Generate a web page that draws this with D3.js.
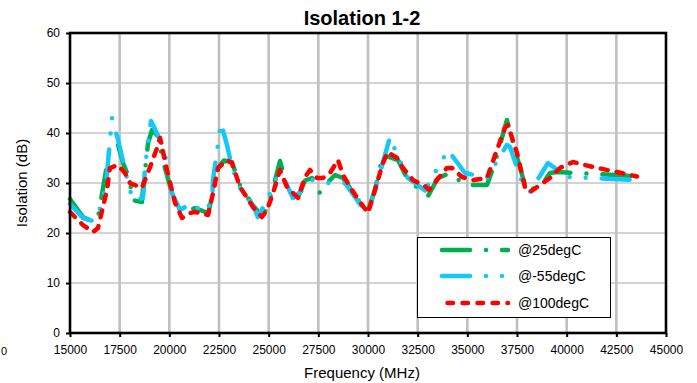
<!DOCTYPE html>
<html><head><meta charset="utf-8">
<script src="https://cdn.jsdelivr.net/npm/d3@7"></script>
<style>
html,body{margin:0;padding:0;background:#fff;}
text{font-family:Arial,"Liberation Sans",sans-serif;}
</style></head>
<body><svg id="c" width="697" height="383"></svg>
<script>
const xTicks = [15000,17500,20000,22500,25000,27500,30000,32500,35000,37500,40000,42500,45000];
const yTicks = [0,10,20,30,40,50,60];
const seriesNames = ["@25degC","@-55degC","@100degC"];

const freq25 = [15000,15650,16160,16410,16760,17010,17420,17670,18020,18120,18620,18670,18930,19130,19380,19780,20130,20540,21040,21290,21950,22200,22450,22750,23150,23560,24210,24660,24920,25220,25570,25920,26480,26830,27180,27580,27940,28340,28740,29190,29700,30000,30350,30750,31510,32010,33020,33520,34130,34880,35990,36390,36990,37500,38000,38810,39160,39510,40520,41570,43540];
const val25  = [26.8,23.2,22.2,23.2,31.2,37.2,37.6,34,30.6,26.6,26.2,28.6,38,40.6,39.6,33,28,24.5,24.5,25,24,28,33,34.5,34.2,29.5,25.5,23.4,25,29,34.4,29.2,27.2,30.5,31,28,30,31.6,31,28.5,25.5,24.5,28.6,35.6,34.6,30.6,27.4,31,32,29.6,29.6,34,42.6,35.2,28.2,30,32,32.2,32,31.8,31.3];

const freqM55 = [15000,15650,16160,16410,16660,16860,17110,17420,17670,17920,18170,18670,18720,18770,19080,19780,19880,20130,20540,21140,21540,21800,22150,22200,22350,22600,22900,23150,23560,24210,24460,24920,25420,25700,26220,26830,27180,27940,28840,29700,30200,30500,31110,31360,32010,32870,33270,34030,34280,34880,35990,36990,37150,37750,38150,39060,40010,41170,42280,43540];
const valM55  = [25.8,23,22.4,23.6,27,31.6,43,38.6,34.4,30,26.6,27,29,33.2,42.4,36.6,32,28,24.6,26,24.6,24.2,26.6,30.6,35,42,37.6,33.2,29,25.5,23.2,26.6,31.2,31.5,27,29,30.6,30,30,25.2,26.6,30.6,39.2,36.6,31,28.5,31.4,36.6,35.2,32,31,37.6,37.2,30.2,28.2,34,31.2,31,30.8,30.6];

const freq100 = [15000,15650,16160,16410,16860,17010,17400,17770,18020,18620,19030,19380,19530,19880,20290,20640,21040,21290,21950,22200,22450,22900,23150,23560,24210,24660,24920,25220,25570,25920,26480,26830,27080,27430,27730,28090,28490,28740,29190,29600,30000,30350,30750,31000,31460,31760,32260,32870,33070,33470,33970,34230,34730,35280,35990,36490,36890,37040,37500,37900,38150,38660,39160,39660,40320,41320,42530,43540];
const val100  = [24.2,21.6,20.2,21,28.6,33,33.6,32,30,29,33.2,37,39,32.6,26,23,24,24.2,23.6,28,33,34.6,34,29.2,25.2,23.2,24.6,28,32.6,29.2,27,31.2,32.6,31,31,32,34.6,31.6,28.6,26.2,24,28.6,34,36.2,35,33,30.6,29.4,28.6,30.6,33,33,31.2,30.6,31,36.6,41,41.6,36,29.2,28.2,29.6,31,33,34.2,33.2,32.2,31.3];

const svg = d3.select("#c");
const m = {l:70, r:666, t:33, b:333};
const x = d3.scaleLinear().domain([15000,45000]).range([m.l, m.r]);
const y = d3.scaleLinear().domain([0,60]).range([m.b, m.t]);

// gridlines
svg.append("g").selectAll("line").data(yTicks.slice(1,-1)).join("line")
  .attr("x1",m.l).attr("x2",m.r).attr("y1",d=>y(d)).attr("y2",d=>y(d))
  .attr("stroke","#c6c6c6").attr("stroke-width",1.6);
svg.append("g").selectAll("line").data(xTicks.slice(1,-1)).join("line")
  .attr("x1",d=>x(d)).attr("x2",d=>x(d)).attr("y1",m.t).attr("y2",m.b)
  .attr("stroke","#c0c0c0").attr("stroke-width",2.6);

// axes
const ax = svg.append("g").attr("transform",`translate(0,${m.b})`)
  .call(d3.axisBottom(x).tickValues(xTicks).tickFormat(d3.format("d")).tickSize(4).tickPadding(8));
const ay = svg.append("g").attr("transform",`translate(${m.l},0)`)
  .call(d3.axisLeft(y).tickValues(yTicks).tickSize(4).tickPadding(6));
[ax,ay].forEach(a=>{
  a.select(".domain").remove();
  a.selectAll("line").attr("stroke","#000").attr("stroke-width",2);
  a.selectAll("text").attr("font-size",12).attr("fill","#000")
   .attr("font-family",'Arial,"Liberation Sans",sans-serif');
});

// series
const series = [
  {name:seriesNames[0], f:freq25, v:val25, color:"#00b050", dash:"28,16,0,16"},
  {name:seriesNames[1], f:freqM55, v:valM55, color:"#14c8f8", dash:"28,16,0,16,0,16"},
  {name:seriesNames[2], f:freq100, v:val100, color:"#ff0000", dash:"7,9"}
];
const line = d3.line().x(d=>x(d[0])).y(d=>y(d[1]));
series.forEach(s=>{
  const pts = s.f.map((f,i)=>[f,s.v[i]]);
  svg.append("path").datum(pts).attr("d",line)
    .attr("fill","none").attr("stroke",s.color).attr("stroke-width",4.5)
    .attr("stroke-dasharray",s.dash).attr("stroke-linecap","round").attr("stroke-linejoin","round");
});

// frame
svg.append("rect").attr("x",m.l).attr("y",m.t).attr("width",m.r-m.l).attr("height",m.b-m.t)
  .attr("fill","none").attr("stroke","#000").attr("stroke-width",2.6);

// titles
svg.append("text").attr("x",362).attr("y",25).attr("text-anchor","middle")
  .attr("font-size",20).attr("font-weight","bold").text("Isolation 1-2");
svg.append("text").attr("x",362).attr("y",378).attr("text-anchor","middle")
  .attr("font-size",15).text("Frequency (MHz)");
svg.append("text").attr("transform","translate(27,183) rotate(-90)").attr("text-anchor","middle")
  .attr("font-size",15).text("Isolation (dB)");
svg.append("text").attr("x",1).attr("y",355).attr("font-size",11).text("0");

// legend
const lg = svg.append("g");
lg.append("rect").attr("x",417.5).attr("y",237.5).attr("width",193).attr("height",80)
  .attr("fill","#fff").attr("stroke","#000").attr("stroke-width",1);
const rows = [250,276,303];
series.forEach((s,i)=>{
  const x0 = i===2 ? 447.5 : 442;
  lg.append("line").attr("x1",x0).attr("x2",508).attr("y1",rows[i]).attr("y2",rows[i])
    .attr("stroke",s.color).attr("stroke-width",4.5).attr("stroke-dasharray",i===2?"5.5,9.5":s.dash)
    .attr("stroke-linecap","round");
  lg.append("text").attr("x",518).attr("y",rows[i]+5).attr("font-size",14).text(s.name);
});
</script></body></html>
